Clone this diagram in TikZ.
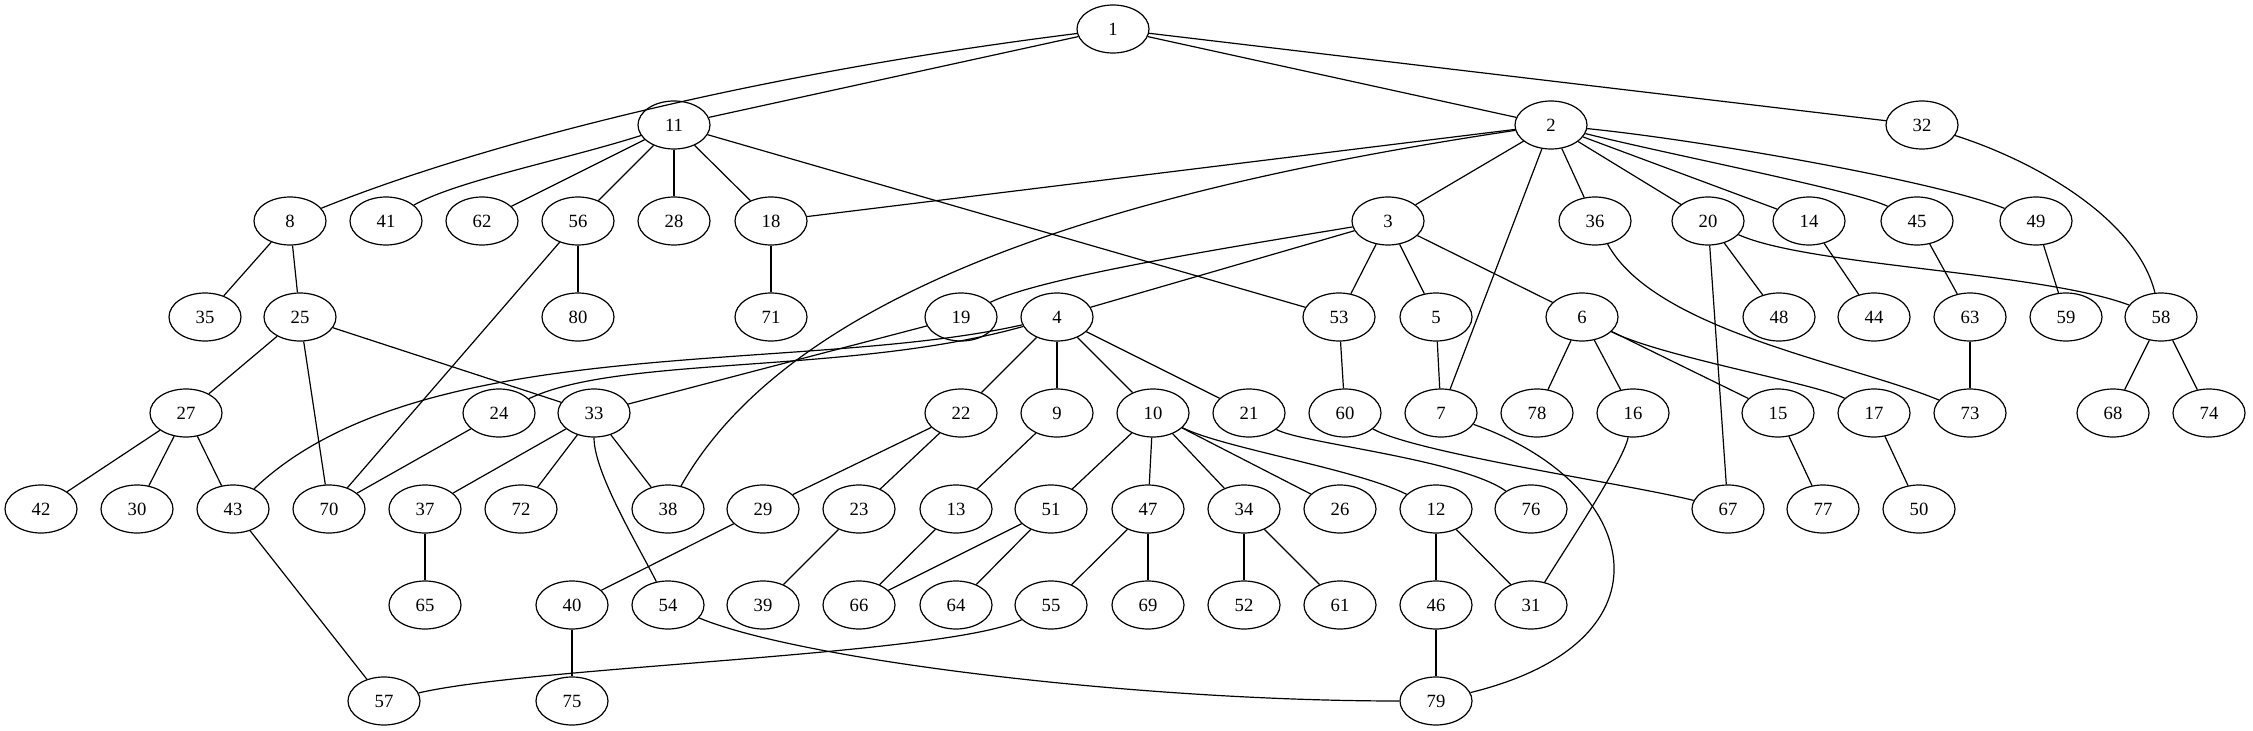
\documentclass[tikz,border=0pt]{standalone}
\usepackage{fontspec}
\setmainfont{Liberation Serif}
\usetikzlibrary{shapes.geometric}
\begin{document}
\begin{tikzpicture}[x=0.75pt,y=-0.75pt,
  vtx/.style={draw,ellipse,line width=0.9pt,minimum width=54pt,minimum height=36pt,inner sep=0pt,font=\fontsize{14}{16}\selectfont},
  edge/.style={line width=0.9pt}]
\useasboundingbox (0,0) rectangle (2253,731);
\foreach \n/\x/\y in {1/1113/29,
 11/674/125, 2/1551/125, 32/1922/125,
 8/290/221, 41/386/221, 62/482/221, 56/578/221, 28/674/221, 18/771/221, 3/1388/221, 36/1595/221, 20/1708/221, 14/1809/221, 45/1917/221, 49/2036/221,
 35/205/317, 25/300/317, 80/578/317, 71/771/317, 19/961/317, 4/1057/317, 53/1339/317, 5/1436/317, 6/1582/317, 48/1779/317, 44/1874/317, 63/1970/317, 59/2066/317, 58/2161/317,
 27/186/413, 24/499/413, 33/594/413, 22/961/413, 9/1057/413, 10/1153/413, 21/1249/413, 60/1345/413, 7/1441/413, 78/1537/413, 16/1633/413, 15/1778/413, 17/1874/413, 73/1970/413, 68/2113/413, 74/2209/413,
 42/41/509, 30/137/509, 43/233/509, 70/329/509, 37/425/509, 72/521/509, 38/668/509, 29/763/509, 23/859/509, 13/956/509, 51/1051/509, 47/1148/509, 34/1244/509, 26/1340/509, 12/1436/509, 76/1531/509, 67/1728/509, 77/1823/509, 50/1919/509,
 65/425/605, 40/572/605, 54/668/605, 39/763/605, 66/859/605, 64/956/605, 55/1051/605, 69/1148/605, 52/1244/605, 61/1340/605, 46/1436/605, 31/1531/605,
 57/384/701, 75/572/701, 79/1436/701}
 \node[vtx] (n\n) at (\x,\y) {\n};
% straight edges
\foreach \a/\b in {1/11, 1/2, 1/32,
 11/62, 11/56, 11/28, 11/18, 11/53,
 2/18, 2/3, 2/7, 2/36, 2/20, 2/14,
 8/35, 8/25, 56/80, 56/70, 18/71,
 3/4, 3/53, 3/5, 3/6,
 20/48, 20/67, 14/44, 45/63, 49/59,
 25/27, 25/70, 25/33, 19/33,
 4/22, 4/9, 4/10, 4/21,
 53/60, 5/7, 6/78, 6/16, 6/15, 63/73, 58/68, 58/74,
 27/42, 27/30, 27/43, 24/70,
 33/37, 33/72, 33/38, 22/29, 22/23, 9/13,
 10/51, 10/47, 10/34, 10/26,
 15/77, 17/50, 43/57, 37/65, 29/40, 23/39,
 13/66, 51/66, 51/64, 47/55, 47/69, 34/52, 34/61,
 12/46, 12/31, 40/75, 46/79}
 \draw[edge] (n\a) -- (n\b);
% curved edges
\draw[edge] (n1) .. controls +(-400,50) and +(160,-65) .. (n8);
\draw[edge] (n11) .. controls +(-110,35) and +(70,-40) .. (n41);
\draw[edge] (n2) .. controls +(-400,60) and +(130,-230) .. (n38);
\draw[edge] (n2) .. controls +(120,30) and +(-60,-30) .. (n45);
\draw[edge] (n2) .. controls +(150,15) and +(-100,-40) .. (n49);
\draw[edge] (n32) .. controls +(110,35) and +(-25,-100) .. (n58);
\draw[edge] (n3) .. controls +(-150,25) and +(80,-40) .. (n19);
\draw[edge] (n36) .. controls +(60,110) and +(-120,-50) .. (n73);
\draw[edge] (n20) .. controls +(100,45) and +(-120,-45) .. (n58);
\draw[edge] (n4) .. controls +(-257,58) and +(187,-179) .. (n43);
\draw[edge] (n4) .. controls +(-207,58) and +(121,-58) .. (n24);
\draw[edge] (n6) .. controls +(80,40) and +(-60,-30) .. (n17);
\draw[edge] (n33) .. controls +(0,60) and +(-30,-60) .. (n54);
\draw[edge] (n10) .. controls +(70,35) and +(-80,-40) .. (n12);
\draw[edge] (n21) .. controls +(50,30) and +(-70,-50) .. (n76);
\draw[edge] (n60) .. controls +(70,40) and +(-100,-25) .. (n67);
\draw[edge] (n7) .. controls +(200,70) and +(245,-60) .. (n79);
\draw[edge] (n16) .. controls +(-10,50) and +(30,-50) .. (n31);
\draw[edge] (n54) .. controls +(132,55) and +(-300,0) .. (n79);
\draw[edge] (n55) .. controls +(-100,50) and +(150,-35) .. (n57);
\end{tikzpicture}
\end{document}
